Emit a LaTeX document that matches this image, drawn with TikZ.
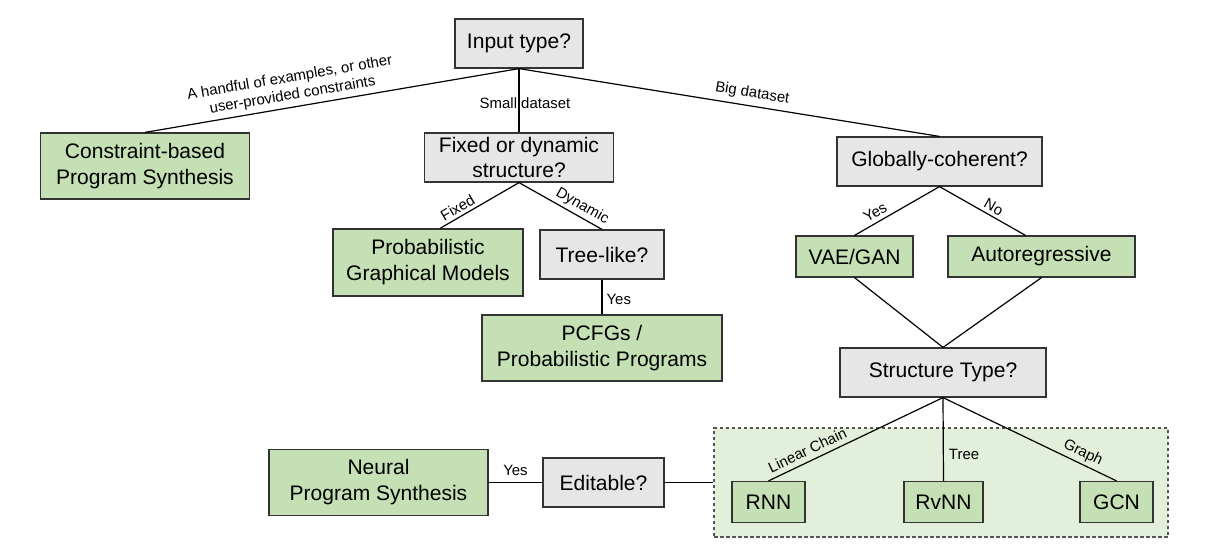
\documentclass[tikz,border=0pt]{standalone}
\usepackage{fontspec}
\setmainfont{Liberation Sans}
\definecolor{greenc}{HTML}{C5E0B4}
\definecolor{grayc}{HTML}{E6E6E6}
\definecolor{lgreen}{HTML}{E2EFDA}
\definecolor{bordc}{HTML}{333333}
\definecolor{dashc}{HTML}{555555}
\begin{document}
\begin{tikzpicture}[x=1bp,y=-1bp,
  box/.style={draw=bordc, line width=1.2bp, inner sep=0pt, align=center, font=\fontsize{21.1}{26}\selectfont},
  qbox/.style={box, fill=grayc},
  gbox/.style={box, fill=greenc},
  conn/.style={line width=1.2bp, draw=black},
  lab/.style={font=\fontsize{15}{17.5}\selectfont, align=center, inner sep=3bp},
  grpbox/.style={draw=dashc, dash pattern=on 3.5bp off 2.5bp, line width=1.2bp, fill=lgreen}
]
\useasboundingbox (0,0) rectangle (1216,548);

% group box
\node[grpbox, minimum width=454bp, minimum height=109bp] (grp) at (941,482.5) {};

% question boxes
\node[qbox, minimum width=128bp, minimum height=49bp] (inp) at (519,43.5) {Input type?};
\node[qbox, minimum width=189bp, minimum height=49bp] (fix) at (519,157.5) {Fixed or dynamic\\structure?};
\node[qbox, minimum width=205bp, minimum height=49bp] (glob) at (939.5,161.5) {Globally-coherent?};
\node[qbox, minimum width=124bp, minimum height=49bp] (tree) at (602,254.5) {Tree-like?};
\node[qbox, minimum width=206bp, minimum height=49bp] (st) at (943,372.5) {Structure Type?};
\node[qbox, minimum width=121bp, minimum height=49bp] (edit) at (603.5,482.5) {Editable?};

% result boxes
\node[gbox, minimum width=209bp, minimum height=66bp] (cons) at (145,166) {Constraint-based\\Program Synthesis};
\node[gbox, minimum width=190bp, minimum height=67bp] (pgm) at (428,262.5) {Probabilistic\\Graphical Models};
\node[gbox, minimum width=117bp, minimum height=41bp] (vae) at (854.5,256.5) {VAE/GAN};
\node[gbox, minimum width=187bp, minimum height=41bp] (auto) at (1041.5,256.5) {Autoregressive};
\node[gbox, minimum width=240bp, minimum height=66bp] (pcfg) at (602,348) {PCFGs /\\Probabilistic Programs};
\node[gbox, minimum width=219bp, minimum height=66bp] (neural) at (378.5,482.5) {Neural\\Program Synthesis};
\node[gbox, minimum width=73bp, minimum height=41bp] (rnn) at (768.5,502) {RNN};
\node[gbox, minimum width=79bp, minimum height=41bp] (rvnn) at (943.5,502) {RvNN};
\node[gbox, minimum width=73bp, minimum height=41bp] (gcn) at (1116.5,502) {GCN};

% connectors
\draw[conn] (inp.south) -- node[lab, sloped, above, pos=0.6, inner sep=4bp] {A handful of examples, or other\\user-provided constraints} (cons.north);
\draw[conn] (inp.south) -- node[lab, pos=0.54, xshift=6bp] {Small dataset} (fix.north);
\draw[conn] (inp.south) -- node[lab, sloped, above, pos=0.55, inner sep=5bp] {Big dataset} (glob.north);
\draw[conn] (fix.south) -- node[lab, sloped, above, pos=0.72] {Fixed} ([xshift=12bp]pgm.north);
\draw[conn] (fix.south) -- node[lab, sloped, above, pos=0.70] {Dynamic} (tree.north);
\draw[conn] (tree.south) -- node[lab, right, pos=0.57, inner sep=4bp] {Yes} (pcfg.north);
\draw[conn] (glob.south) -- node[lab, sloped, above, pos=0.70, inner sep=4bp] {Yes} (vae.north);
\draw[conn] (glob.south) -- node[lab, sloped, above, pos=0.58, inner sep=3bp] {No} ([xshift=-16bp]auto.north);
\draw[conn] (vae.south) -- (st.north);
\draw[conn] (auto.south) -- (st.north);
\draw[conn] (st.south) -- node[lab, sloped, above, pos=0.75, inner sep=5bp] {Linear Chain} (rnn.north);
\draw[conn] (st.south) -- node[lab, right, pos=0.68, inner sep=5bp] {Tree} (rvnn.north);
\draw[conn] (st.south) -- node[lab, sloped, above, pos=0.78, inner sep=3bp] {Graph} (gcn.north);
\draw[conn] (edit.west) -- node[lab, above, inner sep=6bp] {Yes} (neural.east);
\draw[conn] (edit.east) -- (grp.west);
\end{tikzpicture}
\end{document}
